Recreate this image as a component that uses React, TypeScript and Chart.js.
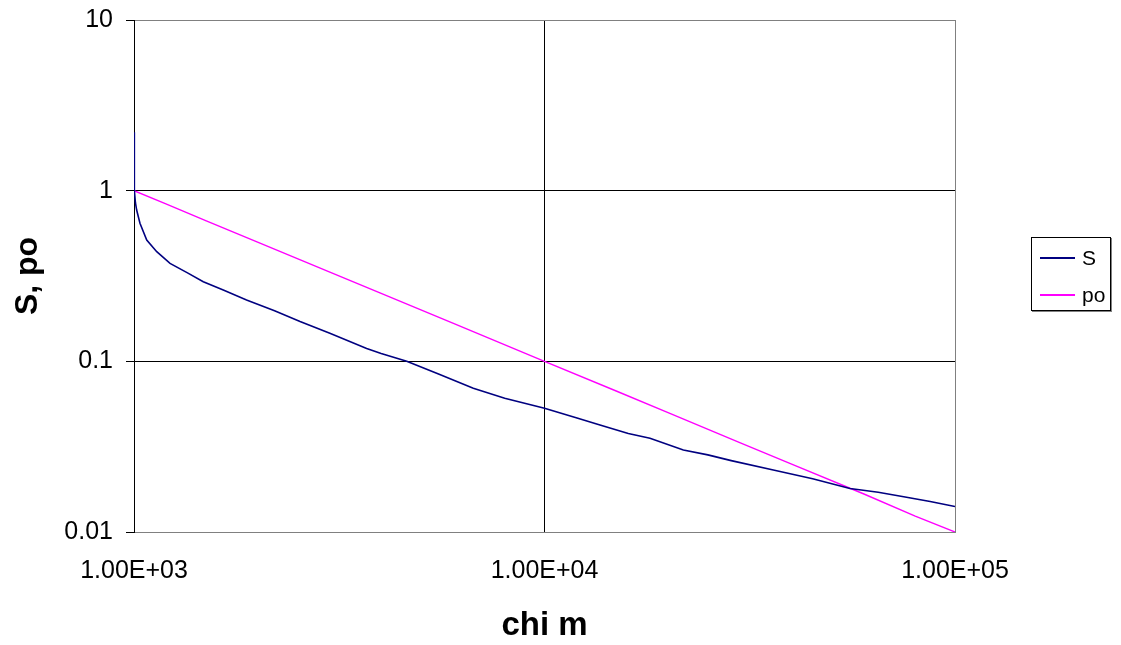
import React, { useEffect, useRef } from "react";
import { Chart, registerables } from "chart.js";

Chart.register(...registerables);

// ---- data ----
const sX = [1000, 1002, 1008, 1015, 1034, 1074, 1136, 1224, 1350, 1475, 1650, 1880, 2200, 2538, 3000, 3688, 4000, 4617, 5500, 6707, 8000, 10000, 12000, 13650, 16000, 18070, 21790, 25000, 28500, 36090, 45000, 55480, 65000, 75000, 87000, 100000];
const sY = [2.2, 1.0, 0.85, 0.77, 0.644, 0.514, 0.439, 0.375, 0.33, 0.293, 0.262, 0.229, 0.198, 0.171, 0.146, 0.119, 0.111, 0.1, 0.0845, 0.0695, 0.0608, 0.0531, 0.0466, 0.0424, 0.0378, 0.0354, 0.0302, 0.0283, 0.0262, 0.0231, 0.0205, 0.018, 0.0171, 0.0161, 0.0151, 0.0141];
const poX = [1000, 1200, 1500, 2000, 3000, 4000, 6000, 10000, 15000, 20000, 30000, 40000, 60000, 80000, 100000];
const poY = [1, 0.835, 0.665, 0.5, 0.333, 0.25, 0.167, 0.1, 0.0668, 0.05, 0.0333, 0.025, 0.0167, 0.0124, 0.01];

const xTickValues = [1000, 10000, 100000];
const xTickLabels = ["1.00E+03", "1.00E+04", "1.00E+05"];
const yTickValues = [0.01, 0.1, 1, 10];
const yTickLabels = ["0.01", "0.1", "1", "10"];

const seriesNames = ["S", "po"];
const seriesColors = ["#000080", "#FF00FF"];

const xTitle = "chi m";
const yTitle = "S, po";

const FONT = "'Liberation Sans', Arial, sans-serif";

export default function App() {
  const canvasRef = useRef<HTMLCanvasElement | null>(null);

  useEffect(() => {
    document.body.style.margin = "0";
    const ctx = canvasRef.current;
    if (!ctx) return;
    const chart = new Chart(ctx, {
      type: "line",
      data: {
        datasets: [
          {
            label: seriesNames[0],
            data: sX.map((x, i) => ({ x, y: sY[i] })),
            borderColor: seriesColors[0],
            backgroundColor: seriesColors[0],
            borderWidth: 1.6,
            pointRadius: 0,
            tension: 0,
          },
          {
            label: seriesNames[1],
            data: poX.map((x, i) => ({ x, y: poY[i] })),
            borderColor: seriesColors[1],
            backgroundColor: seriesColors[1],
            borderWidth: 1.4,
            pointRadius: 0,
            tension: 0,
          },
        ],
      },
      options: {
        animation: false,
        responsive: false,
        maintainAspectRatio: false,
        layout: { padding: { top: 20, right: 166, left: 0, bottom: 0 } },
        plugins: { legend: { display: false }, tooltip: { enabled: false } },
        scales: {
          x: {
            type: "logarithmic",
            min: 1000,
            max: 100000,
            afterBuildTicks: (scale: any) => {
              scale.ticks = xTickValues.map((v) => ({ value: v }));
            },
            afterFit: (scale: any) => {
              scale.height = 113;
              scale.paddingLeft = 0;
              scale.paddingRight = 0;
            },
            ticks: {
              autoSkip: false,
              maxRotation: 0,
              minRotation: 0,
              padding: 24,
              color: "#000",
              font: { family: FONT, size: 25, lineHeight: 1.2 },
              callback: (v: any) => {
                const i = xTickValues.indexOf(Number(v));
                return i >= 0 ? xTickLabels[i] : "";
              },
            },
            grid: {
              drawTicks: false,
              color: (c: any) => {
                const v = c.tick && c.tick.value;
                if (v === 100000) return "#808080";
                return "#000";
              },
              lineWidth: 1,
            },
            border: { display: true, color: "#808080", width: 1 },
            title: {
              display: true,
              text: xTitle,
              color: "#000",
              font: { family: FONT, size: 33, weight: "bold", lineHeight: 1 },
              padding: { top: 0, bottom: 3 },
            },
          },
          y: {
            type: "logarithmic",
            min: 0.01,
            max: 10,
            afterBuildTicks: (scale: any) => {
              scale.ticks = yTickValues.map((v) => ({ value: v }));
            },
            afterFit: (scale: any) => {
              scale.width = 134;
              scale.paddingTop = 0;
              scale.paddingBottom = 0;
            },
            ticks: {
              autoSkip: false,
              padding: 13,
              color: "#000",
              font: { family: FONT, size: 25 },
              callback: (v: any) => {
                const i = yTickValues.indexOf(Number(v));
                return i >= 0 ? yTickLabels[i] : "";
              },
            },
            grid: {
              drawTicks: true,
              tickLength: 8,
              tickColor: "#000",
              color: (c: any) => {
                const v = c.tick && c.tick.value;
                if (v === 10 || v === 0.01) return "#808080";
                return "#000";
              },
              lineWidth: 1,
            },
            border: { display: true, color: "#000", width: 1 },
            title: {
              display: true,
              text: yTitle,
              color: "#000",
              font: { family: FONT, size: 32, weight: "bold", lineHeight: 1 },
              padding: { top: 12, bottom: 0 },
            },
          },
        },
      },
    });
    return () => chart.destroy();
  }, []);

  return (
    <div style={{ position: "relative", width: 1121, height: 645, background: "#fff" }}>
      <canvas ref={canvasRef} width={1121} height={645} style={{ display: "block" }} />
      <div
        style={{
          position: "absolute",
          left: 1031,
          top: 237,
          width: 80,
          height: 74,
          border: "1px solid #000",
          boxShadow: "1px 1px 0 #808080",
          background: "#fff",
          fontFamily: FONT,
          fontSize: 21,
          color: "#000",
          boxSizing: "border-box",
        }}
      >
        {seriesNames.map((name, i) => (
          <div
            key={name}
            style={{
              position: "absolute",
              left: 0,
              top: i === 0 ? 8 : 45,
              height: 24,
              display: "flex",
              alignItems: "center",
            }}
          >
            <div style={{ marginLeft: 8, width: 35, height: 2, background: seriesColors[i] }} />
            <span style={{ marginLeft: 7, lineHeight: "24px" }}>{name}</span>
          </div>
        ))}
      </div>
    </div>
  );
}
